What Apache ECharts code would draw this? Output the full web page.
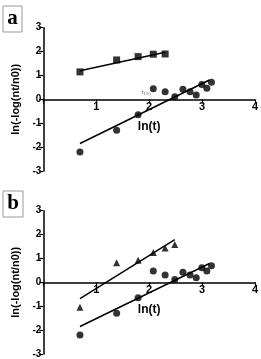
<!DOCTYPE html>
<html><head><meta charset="utf-8">
<script src="https://cdn.jsdelivr.net/npm/echarts@6/dist/echarts.min.js"></script>
<style>html,body{margin:0;padding:0;background:#fff}#c{width:261px;height:359px}</style>
</head><body><div id="c"></div>
<script>
// ln(t) values
const lnT = [0.693, 1.386, 1.792, 2.079, 2.303, 2.485, 2.639, 2.773, 2.890, 2.996, 3.091, 3.178];
// panel a
const squaresA = [1.15, 1.65, 1.79, 1.89, 1.90];
const circlesA = [-2.20, -1.29, -0.65, 0.44, 0.32, 0.11, 0.42, 0.32, 0.18, 0.62, 0.46, 0.72];
const fitSquaresX = [0.693, 2.303];
const fitSquaresY = [1.20, 1.97];
const fitCirclesX = [0.693, 3.14];
const fitCirclesY = [-1.85, 0.81];
// panel b
const trianglesB = [-1.04, 0.82, 0.93, 1.25, 1.44, 1.58];
const circlesB = [-2.20, -1.29, -0.64, 0.48, 0.31, 0.12, 0.42, 0.31, 0.19, 0.61, 0.48, 0.69];
const fitTrianglesX = [0.693, 2.485];
const fitTrianglesY = [-0.68, 1.79];
const fitCirclesBX = [0.693, 3.14];
const fitCirclesBY = [-1.85, 0.79];
const xTicks = [0, 1, 2, 3, 4];
const yTicks = [-3, -2, -1, 0, 1, 2, 3];

const pairs = (xs, ys) => ys.map((v, i) => [xs[i], v]);
const FONT = 'Liberation Sans, Arial, sans-serif';
const GRID_H = 143.3;

function xAxisDef(idx) {
  return {
    gridIndex: idx, type: 'value', min: xTicks[0], max: xTicks[xTicks.length - 1], interval: 1,
    position: 'bottom',
    // place the axis at y = 0 (middle of the -3..3 range)
    offset: -GRID_H * (0 - yTicks[0]) / (yTicks[yTicks.length - 1] - yTicks[0]),
    name: 'ln(t)', nameLocation: 'middle', nameGap: 21,
    nameTextStyle: { fontFamily: FONT, fontWeight: 'bold', fontSize: 12, color: '#000' },
    axisLine: { onZero: false, lineStyle: { color: '#000', width: 1.5 } },
    axisTick: { length: 4, lineStyle: { color: '#000', width: 1.2 } },
    axisLabel: { margin: 2, fontFamily: FONT, fontWeight: 'bold', fontSize: 11, color: '#000',
      formatter: v => (v === 0 ? '' : String(v)) },
    splitLine: { show: false }
  };
}
function yAxisDef(idx) {
  return {
    gridIndex: idx, type: 'value', min: yTicks[0], max: yTicks[yTicks.length - 1], interval: 1,
    name: 'ln(-log(nt/n0))', nameLocation: 'middle', nameGap: 21,
    nameTextStyle: { fontFamily: FONT, fontWeight: 'bold', fontSize: 11, color: '#000' },
    axisLine: { show: true, onZero: false, lineStyle: { color: '#000', width: 1.5 } },
    axisTick: { show: true, length: 4, lineStyle: { color: '#000', width: 1.2 } },
    axisLabel: { margin: 2, fontFamily: FONT, fontWeight: 'bold', fontSize: 10, color: '#000' },
    splitLine: { show: false }
  };
}
function scatter(idx, data, symbol, size) {
  return { type: 'scatter', xAxisIndex: idx, yAxisIndex: idx, data, symbol, symbolSize: size,
    itemStyle: { color: '#000' }, silent: true, z: 3 };
}
function fit(idx, xs, ys) {
  return { type: 'line', xAxisIndex: idx, yAxisIndex: idx, data: pairs(xs, ys), symbol: 'none',
    lineStyle: { color: '#000', width: 1.5 }, silent: true, z: 2 };
}

const chart = echarts.init(document.getElementById('c'), null, { renderer: 'canvas' });
chart.setOption({
  animation: false,
  backgroundColor: '#fff',
  grid: [
    { left: 43.3, top: 27.7, width: 213.3, height: GRID_H },
    { left: 43.3, top: 210.7, width: 213.3, height: GRID_H }
  ],
  xAxis: [xAxisDef(0), xAxisDef(1)],
  yAxis: [yAxisDef(0), yAxisDef(1)],
  graphic: [
    { type: 'rect', shape: { x: 3, y: 6, width: 19, height: 26 }, style: { fill: '#fff', stroke: '#999', lineWidth: 1 } },
    { type: 'text', x: 12.5, y: 19, style: { text: 'a', fontFamily: 'Liberation Serif, serif', fontWeight: 'bold', fontSize: 21, fill: '#000', align: 'center', verticalAlign: 'middle' } },
    { type: 'rect', shape: { x: 3, y: 191, width: 20, height: 26 }, style: { fill: '#fff', stroke: '#999', lineWidth: 1 } },
    { type: 'text', x: 13, y: 204, style: { text: 'b', fontFamily: 'Liberation Serif, serif', fontWeight: 'bold', fontSize: 21, fill: '#000', align: 'center', verticalAlign: 'middle' } },
    { type: 'text', x: 146, y: 92, style: { text: 'τ₁₀₀', fontFamily: FONT, fontSize: 6, fill: '#555', align: 'center', verticalAlign: 'middle' } }
  ],
  series: [
    fit(0, fitSquaresX, fitSquaresY),
    fit(0, fitCirclesX, fitCirclesY),
    scatter(0, pairs(lnT, squaresA), 'rect', 7),
    scatter(0, pairs(lnT, circlesA), 'circle', 7),
    fit(1, fitTrianglesX, fitTrianglesY),
    fit(1, fitCirclesBX, fitCirclesBY),
    scatter(1, pairs(lnT, trianglesB), 'triangle', 7),
    scatter(1, pairs(lnT, circlesB), 'circle', 7)
  ]
});
</script></body></html>
